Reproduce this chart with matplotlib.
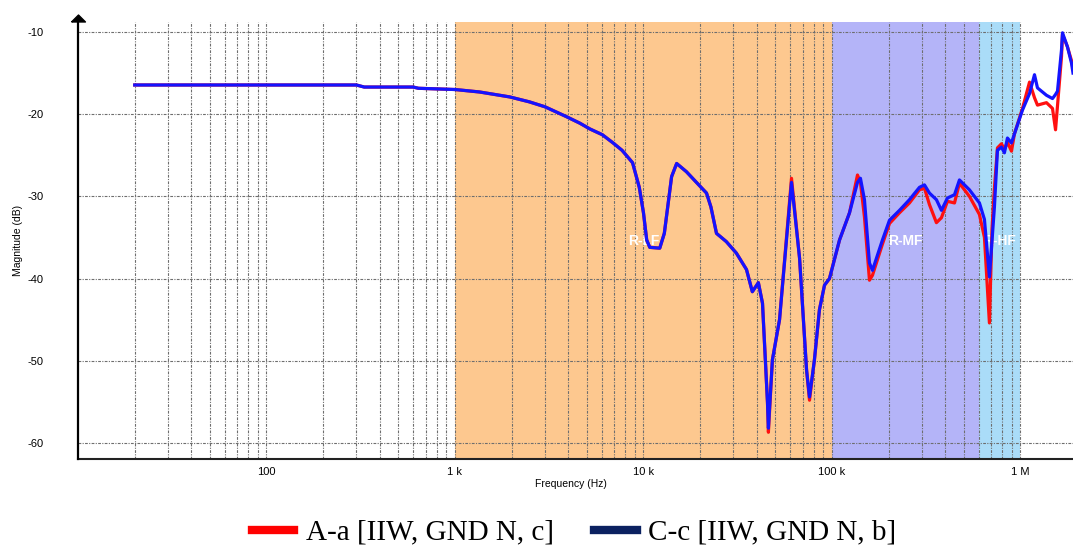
import matplotlib.pyplot as plt
from matplotlib.lines import Line2D
from matplotlib.ticker import LogLocator, NullFormatter, FixedLocator, FixedFormatter

plt.rcParams['axes.unicode_minus'] = False

# measured magnitude response, frequency in Hz
freq_hz = [20, 300, 330, 600, 640, 1000, 1350, 1950, 2480, 3000, 3900, 4600, 5200, 6050,
           6900, 7700, 8750, 9500, 10000, 10400, 10800, 12200, 12900, 14100, 15000, 16900,
           19100, 21600, 22800, 24400, 27500, 31100, 35200, 37800, 40700, 42800, 45500,
           46000, 48300, 52700, 61000, 67300, 73300, 76000, 80700, 85800, 91300, 97000,
           100600, 109700, 123900, 136600, 141600, 148700, 158100, 164000, 185300,
           201900, 228100, 257700, 291200, 309500, 329000, 358200, 380800, 409900,
           446700, 474600, 536200, 605800, 644000, 684400, 706000, 727500, 755000,
           793000, 822000, 853000, 896000, 929000, 1025000, 1117000, 1187000, 1231000,
           1374000, 1479000, 1535000, 1572000, 1651000, 1671000, 1775000, 1866000, 1900000]

mag_cc = [-16.45, -16.45, -16.7, -16.7, -16.85, -17.0, -17.3, -17.9, -18.5, -19.1, -20.3,
          -21.1, -21.8, -22.5, -23.5, -24.4, -25.9, -28.9, -32.0, -35.3, -36.2, -36.3,
          -34.5, -27.6, -26.0, -27.0, -28.3, -29.6, -31.3, -34.5, -35.5, -36.9, -38.9,
          -41.6, -40.5, -43.0, -55.1, -58.2, -49.9, -45.0, -28.3, -37.5, -51.1, -54.4,
          -49.9, -43.8, -40.8, -40.0, -38.6, -35.3, -32.0, -28.3, -27.8, -30.4, -38.1,
          -39.0, -35.3, -32.9, -31.7, -30.4, -28.9, -28.6, -29.6, -30.4, -31.7, -30.2,
          -29.8, -28.0, -29.2, -30.8, -32.8, -39.8, -35.5, -31.3, -24.4, -24.0, -24.7,
          -22.9, -23.5, -22.4, -19.5, -17.5, -15.2, -16.8, -17.7, -18.1, -17.6, -17.2,
          -12.2, -10.1, -11.8, -13.8, -15.0]

mag_aa = [-16.45, -16.45, -16.7, -16.7, -16.85, -17.0, -17.3, -17.9, -18.5, -19.1, -20.3,
          -21.1, -21.8, -22.5, -23.5, -24.4, -25.9, -28.9, -32.0, -35.3, -36.2, -36.3,
          -34.5, -27.6, -26.0, -27.0, -28.3, -29.6, -31.3, -34.5, -35.5, -36.9, -38.9,
          -41.6, -40.5, -43.0, -55.1, -58.7, -49.9, -45.0, -27.8, -37.5, -51.1, -54.8,
          -49.9, -43.8, -40.8, -40.0, -38.6, -35.3, -32.0, -27.4, -28.3, -32.5, -40.2,
          -39.6, -35.8, -33.3, -32.0, -30.8, -29.2, -29.0, -31.0, -33.2, -32.6, -30.6,
          -30.8, -28.4, -30.0, -32.2, -35.0, -45.4, -34.1, -29.0, -24.1, -23.6, -24.3,
          -23.4, -24.5, -22.4, -19.3, -16.1, -18.0, -18.9, -18.6, -19.3, -21.9, -19.0,
          -13.0, -10.3, -11.8, -13.5, -14.5]

# frequency bands: (start, stop, colour, label)
bands = [(1e3, 1e5, '#fdc88f', 'R-LF'),
         (1e5, 6e5, '#b4b4f8', 'R-MF'),
         (6e5, 1e6, '#aadcf8', 'R-HF')]

tick_freqs = [100, 1e3, 1e4, 1e5, 1e6]
tick_labels = ['100', '1 k', '10 k', '100 k', '1 M']
y_ticks = [-10, -20, -30, -40, -50, -60]

fig = plt.figure(figsize=(10.73, 5.49), dpi=100)
ax = fig.add_axes([78 / 1073, 90 / 549, 995 / 1073, 437.3 / 549])
ax.set_xscale('log')
ax.set_xlim(10, 1.9e6)
ax.set_ylim(-61.95, -8.75)

for f0, f1, col, name in bands:
    ax.axvspan(f0, f1, color=col, lw=0, zorder=0.2)
    fc = (f0 * f1) ** 0.5
    ax.text(fc, -35.4, name, color='white', fontweight='bold', fontsize=10,
            family='Liberation Sans', ha='center', va='center', zorder=1.5)

ax.plot(freq_hz, mag_aa, color='#ff1010', lw=2.3, zorder=3)
ax.plot(freq_hz, mag_cc, color='#1414ff', lw=2.3, zorder=4)

ax.xaxis.set_major_locator(FixedLocator(tick_freqs))
ax.xaxis.set_major_formatter(FixedFormatter(tick_labels))
ax.xaxis.set_minor_locator(LogLocator(base=10, subs=range(2, 10), numticks=20))
ax.xaxis.set_minor_formatter(NullFormatter())
ax.set_yticks(y_ticks)
ax.set_yticklabels([str(v) for v in y_ticks])

ax.set_axisbelow(True)
grid_kw = dict(color='#6e6e6e', lw=0.8, linestyle=(0, (2.5, 1.2, 1, 1.2)))
ax.grid(True, which='both', axis='x', **grid_kw)
ax.grid(True, which='major', axis='y', **grid_kw)

ax.tick_params(axis='both', which='both', length=0)
ax.tick_params(axis='y', pad=25, labelsize=8)
ax.tick_params(axis='x', pad=6, labelsize=8)
for lab in ax.get_xticklabels() + ax.get_yticklabels():
    lab.set_family('Liberation Sans')

ax.set_xlabel('Frequency (Hz)', fontsize=7.5, family='Liberation Sans')
ax.set_ylabel('Magnitude (dB)', fontsize=7.5, family='Liberation Sans')
ax.xaxis.set_label_coords(0.495, -0.045)
ax.yaxis.set_label_coords(-0.055, 0.5)

for side in ['top', 'right', 'left']:
    ax.spines[side].set_visible(False)
ax.spines['bottom'].set_color('#222222')
ax.spines['bottom'].set_linewidth(1.5)

# left axis with a flat arrow head on top
ax.plot([0, 0], [0, 1.008], transform=ax.transAxes, color='black', lw=1.6,
        clip_on=False, zorder=5)
ax.plot(0, 1.009, marker=[(-1, -0.5), (1, -0.5), (0, 0.5), (-1, -0.5)], ms=10,
        color='black', transform=ax.transAxes, clip_on=False, zorder=5)

handles = [Line2D([], [], color='#ff0000', lw=6),
           Line2D([], [], color='#0b2160', lw=6)]
fig.legend(handles, ['A-a [IIW, GND N, c]', 'C-c [IIW, GND N, b]'],
           loc='center', bbox_to_anchor=(0.535, 0.03), ncol=2, frameon=False,
           prop={'family': 'Liberation Serif', 'size': 21},
           handlelength=1.45, handletextpad=0.4, columnspacing=1.4)

fig.savefig('out.png', dpi=100)
